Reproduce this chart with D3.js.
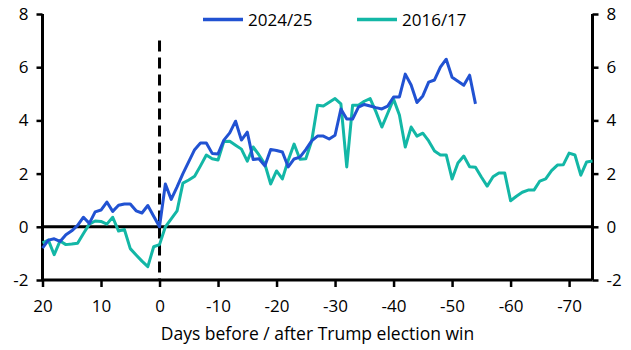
<!DOCTYPE html>
<html>
<head>
<meta charset="utf-8">
<script src="https://cdn.jsdelivr.net/npm/d3@7"></script>
<style>
  html, body { margin: 0; padding: 0; background: #fff; }
  svg text { font-family: "Open Sans", sans-serif; fill: #000; }
</style>
</head>
<body>
<svg id="chart" width="631" height="350"></svg>
<script>
// ---- Data ----
const daysBlue = d3.range(20, -55, -1);   // 20 .. -54
const series2024 = [
  -0.8, -0.5, -0.45, -0.55, -0.3, -0.15, 0.05, 0.36, 0.13, 0.56,
  0.63, 0.93, 0.58, 0.81, 0.86, 0.86, 0.6, 0.52, 0.8, 0.4, 0.0,
  1.61, 1.03, 1.5, 2.0, 2.45, 2.9, 3.15, 3.15, 2.76, 2.74,
  3.26, 3.53, 3.97, 3.26, 3.56, 2.53, 2.56, 2.29, 2.91, 2.87,
  2.81, 2.25, 2.55, 2.62, 2.9, 3.23, 3.41, 3.41, 3.3, 3.44,
  4.43, 4.05, 4.05, 4.5, 4.6, 4.54, 4.48, 4.43, 4.54, 4.88,
  4.88, 5.74, 5.33, 4.67, 4.92, 5.44, 5.52, 6.0, 6.3, 5.62,
  5.47, 5.32, 5.7, 4.62
];
const daysTeal = d3.range(20, -75, -1);   // 20 .. -74
const series2016 = [
  -0.6, -0.5, -1.05, -0.53, -0.67, -0.65, -0.62, -0.25, 0.1, 0.22,
  0.2, 0.1, 0.36, -0.16, -0.1, -0.82, -1.06, -1.29, -1.5, -0.75, -0.67,
  0.0, 0.3, 0.6, 1.64, 1.76, 1.9, 2.29, 2.7, 2.56, 2.51,
  3.21, 3.22, 3.07, 2.92, 2.47, 3.0, 2.7, 2.36, 1.61, 2.1,
  1.8, 2.5, 3.11, 2.54, 2.56, 3.22, 4.57, 4.54, 4.68, 4.82,
  4.62, 2.25, 4.57, 4.57, 4.72, 4.82, 4.32, 3.75, 4.27, 4.8,
  4.2, 3.0, 3.75, 3.41, 3.52, 3.23, 2.85, 2.7, 2.7, 1.8,
  2.4, 2.66, 2.26, 2.24, 1.87, 1.53, 1.88, 2.02, 2.02, 0.98,
  1.15, 1.3, 1.38, 1.38, 1.72, 1.8, 2.11, 2.32, 2.33, 2.77,
  2.7, 1.94, 2.44, 2.47
];
const xTicks = [20, 10, 0, -10, -20, -30, -40, -50, -60, -70];
const yTicks = [-2, 0, 2, 4, 6, 8];
const seriesNames = ["2024/25", "2016/17"];
const colors = ["#2152d2", "#13b7a6"];
const xTitle = "Days before / after Trump election win";

// ---- Layout ----
const svg = d3.select("#chart");
const mLeft = 42.5, mRight = 592.5, mTop = 14, mBottom = 280;
const x = d3.scaleLinear().domain([20, -74]).range([mLeft, mRight]);
const y = d3.scaleLinear().domain([-2, 8]).range([mBottom, mTop]);
const fs = 17;
const fmt = d => String(d);

// Axes
const axL = svg.append("g").attr("transform", `translate(${mLeft},0)`)
  .call(d3.axisLeft(y).tickValues(yTicks).tickSize(6).tickPadding(8).tickFormat(fmt));
const axR = svg.append("g").attr("transform", `translate(${mRight},0)`)
  .call(d3.axisRight(y).tickValues(yTicks).tickSize(6).tickPadding(8).tickFormat(fmt));
const axB = svg.append("g").attr("transform", `translate(0,${mBottom})`)
  .call(d3.axisBottom(x).tickValues(xTicks).tickSize(7).tickPadding(13).tickFormat(fmt));
[axL, axR, axB].forEach(g => {
  g.select(".domain").attr("stroke", "#000").attr("stroke-width", 3);
  g.selectAll(".tick line").attr("stroke", "#000").attr("stroke-width", 2.5);
  g.selectAll(".tick text").attr("font-size", fs).attr("font-family", "'Open Sans', sans-serif").attr("fill", "#000");
});
axL.select(".domain").attr("d", `M0,${mTop}V${mBottom}`);
axR.select(".domain").attr("d", `M0,${mTop}V${mBottom}`);
axB.select(".domain").attr("d", `M${mLeft},0H${mRight}`);

// Zero line
svg.append("line")
  .attr("x1", mLeft).attr("x2", mRight)
  .attr("y1", y(0)).attr("y2", y(0))
  .attr("stroke", "#000").attr("stroke-width", 3);

// Dashed election-day line
svg.append("line")
  .attr("x1", x(0)).attr("x2", x(0))
  .attr("y1", y(7)).attr("y2", y(-2))
  .attr("stroke", "#000").attr("stroke-width", 3)
  .attr("stroke-dasharray", "11,6");

// Lines
const line = d3.line().x(d => x(d[0])).y(d => y(d[1]));
const teal = daysTeal.map((d, i) => [d, series2016[i]]);
const blue = daysBlue.map((d, i) => [d, series2024[i]]);
svg.append("path").datum(teal).attr("d", line)
  .attr("fill", "none").attr("stroke", colors[1]).attr("stroke-width", 3).attr("stroke-linejoin", "round");
svg.append("path").datum(blue).attr("d", line)
  .attr("fill", "none").attr("stroke", colors[0]).attr("stroke-width", 3).attr("stroke-linejoin", "round");

// Legend
const legendX = [203, 357];
seriesNames.forEach((name, i) => {
  svg.append("line").attr("x1", legendX[i]).attr("x2", legendX[i] + 40)
    .attr("y1", 19.5).attr("y2", 19.5).attr("stroke", colors[i]).attr("stroke-width", 3.5);
  svg.append("text").attr("x", legendX[i] + 45).attr("y", 25.5)
    .attr("font-size", fs).text(name);
});

// X title
svg.append("text").attr("x", (158 + 477) / 2).attr("y", 340)
  .attr("text-anchor", "middle").attr("font-size", 17.5).text(xTitle);
</script>
</body>
</html>
